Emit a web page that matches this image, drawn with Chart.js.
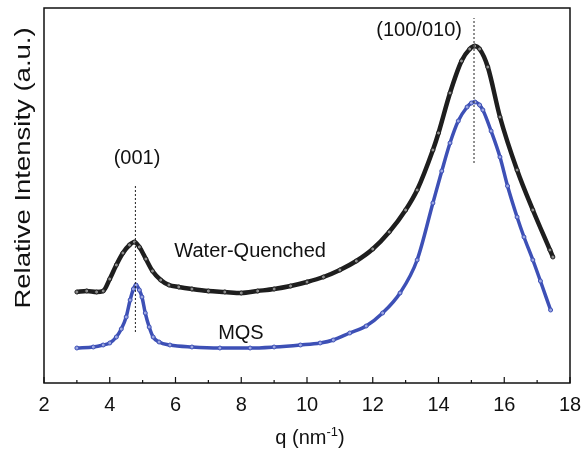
<!DOCTYPE html>
<html>
<head>
<meta charset="utf-8">
<script src="https://cdn.jsdelivr.net/npm/chart.js@4.4.0/dist/chart.umd.min.js"></script>
<style>
  html, body { margin: 0; padding: 0; background: #fff; }
  #wrap { width: 582px; height: 449px; }
</style>
</head>
<body>
<div id="wrap"><canvas id="saxs"></canvas></div>
<script>
// scattering vector q (nm^-1) and intensity (a.u.) read along each profile
const qWater = [3.0, 3.3, 3.6, 3.8, 4.0, 4.2, 4.4, 4.6, 4.75, 4.9, 5.1, 5.3, 5.55, 5.8, 6.1, 6.5, 7.0, 7.5, 8.0, 8.5, 9.0, 9.5, 10.0, 10.5, 11.0, 11.5, 12.0, 12.5, 13.0, 13.35, 13.83, 14.0, 14.35, 14.7, 14.95, 15.1, 15.25, 15.5, 15.87, 16.39, 16.87, 17.39, 17.48];
const iWater = [91, 92, 91, 92, 104, 118, 130, 138, 141, 136, 124, 112, 103, 98, 96, 94, 92, 91, 90, 92, 94, 97, 101, 106, 113, 122, 134, 151, 173, 193, 233, 250, 290, 322, 334, 337, 334, 316, 266, 213, 173, 133, 126];

const qMqs = [3.0, 3.5, 3.8, 4.0, 4.2, 4.35, 4.5, 4.62, 4.72, 4.8, 4.9, 4.98, 5.08, 5.2, 5.32, 5.5, 5.83, 6.5, 7.35, 8.27, 9.0, 9.8, 10.4, 10.8, 11.3, 11.8, 12.3, 12.83, 13.35, 13.83, 14.1, 14.35, 14.6, 14.87, 15.0, 15.11, 15.25, 15.35, 15.6, 15.87, 16.1, 16.39, 16.6, 16.87, 17.1, 17.41];
const iMqs = [35, 36, 38, 40, 46, 54, 66, 83, 94, 98, 93, 86, 70, 56, 46, 41, 38, 36, 35, 35, 36, 38, 40, 43, 50, 57, 70, 90, 123, 180, 212, 240, 262, 276, 280, 281, 278, 273, 252, 226, 197, 166, 146, 123, 102, 73];

// reflection markers: position and vertical extent of the dotted guides
const peakQ = [4.78, 15.08];
const guideFrom = [51, 220];
const guideTo = [198, 365];

const xTicks = [2, 4, 6, 8, 10, 12, 14, 16, 18];
const xMinorTicks = [3, 5, 7, 9, 11, 13, 15, 17];

// text labels placed in data coordinates
const notes = [
  { text: "(001)", q: 4.83, y: 225 },
  { text: "(100/010)", q: 13.41, y: 353 },
  { text: "Water-Quenched", q: 8.27, y: 132 },
  { text: "MQS", q: 7.99, y: 50 }
];

const FONT = "'Liberation Sans', Arial, sans-serif";
const black = "#1e1e1e";
const blue = "#3d50b6";

function pairs(xs, ys) {
  return xs.map((x, i) => ({ x: x, y: ys[i] }));
}

const guideSets = peakQ.map((q, i) => ({
  data: [{ x: q, y: guideFrom[i] }, { x: q, y: guideTo[i] }],
  borderColor: "#222",
  borderWidth: 1,
  borderDash: [2, 2],
  pointRadius: 0,
  order: 0
}));

// frame, minor ticks, titles and annotations
const decor = {
  id: "decor",
  afterDraw(chart) {
    const ctx = chart.ctx;
    const a = chart.chartArea;
    const xs = chart.scales.x;
    const ys = chart.scales.y;
    ctx.save();
    ctx.strokeStyle = "#111";
    ctx.lineWidth = 1.5;
    ctx.strokeRect(a.left, a.top, a.right - a.left, a.bottom - a.top);

    ctx.lineWidth = 1.2;
    ctx.beginPath();
    xTicks.forEach(v => {
      const px = xs.getPixelForValue(v);
      ctx.moveTo(px, a.bottom);
      ctx.lineTo(px, a.bottom - 6);
    });
    xMinorTicks.forEach(v => {
      const px = xs.getPixelForValue(v);
      ctx.moveTo(px, a.bottom);
      ctx.lineTo(px, a.bottom - 3);
    });
    ctx.stroke();

    ctx.fillStyle = "#111";
    ctx.textAlign = "center";
    ctx.textBaseline = "middle";
    ctx.font = "20px " + FONT;
    notes.forEach(n => {
      ctx.fillText(n.text, xs.getPixelForValue(n.q), ys.getPixelForValue(n.y));
    });

    // x title with superscript
    const cx = (a.left + a.right) / 2 + 3;
    const base = 444;
    ctx.textBaseline = "alphabetic";
    ctx.textAlign = "left";
    const t1 = "q (nm";
    const t2 = "-1";
    const t3 = ")";
    ctx.font = "20px " + FONT;
    const w1 = ctx.measureText(t1).width;
    const w3 = ctx.measureText(t3).width;
    ctx.font = "13px " + FONT;
    const w2 = ctx.measureText(t2).width;
    let x0 = cx - (w1 + w2 + w3) / 2;
    ctx.font = "20px " + FONT;
    ctx.fillText(t1, x0, base);
    ctx.font = "13px " + FONT;
    ctx.fillText(t2, x0 + w1, base - 8);
    ctx.font = "20px " + FONT;
    ctx.fillText(t3, x0 + w1 + w2, base);

    // y title, drawn a little elongated along its length
    ctx.translate(24, 168);
    ctx.rotate(-Math.PI / 2);
    ctx.scale(1.25, 1);
    ctx.textAlign = "center";
    ctx.textBaseline = "middle";
    ctx.font = "22px " + FONT;
    ctx.fillText("Relative Intensity (a.u.)", 0, 0);
    ctx.restore();
  }
};

new Chart(document.getElementById("saxs"), {
  type: "line",
  data: {
    datasets: [
      {
        label: "Water-Quenched",
        data: pairs(qWater, iWater),
        borderColor: black,
        borderWidth: 4.5,
        pointRadius: 2,
        pointBorderWidth: 1,
        pointBorderColor: black,
        pointBackgroundColor: "#8c8c8c",
        cubicInterpolationMode: "monotone",
        order: 2
      },
      {
        label: "MQS",
        data: pairs(qMqs, iMqs),
        borderColor: blue,
        borderWidth: 3.5,
        pointRadius: 2,
        pointBorderWidth: 1,
        pointBorderColor: blue,
        pointBackgroundColor: "#9aa5e0",
        cubicInterpolationMode: "monotone",
        order: 1
      },
      ...guideSets
    ]
  },
  options: {
    responsive: true,
    maintainAspectRatio: false,
    animation: false,
    layout: { padding: { top: 8, right: 12, left: 0, bottom: 0 } },
    plugins: {
      legend: { display: false },
      tooltip: { enabled: false }
    },
    scales: {
      x: {
        type: "linear",
        min: 2,
        max: 18,
        grid: { display: false, drawTicks: false },
        border: { display: false },
        afterBuildTicks(scale) {
          scale.ticks = xTicks.map(v => ({ value: v }));
        },
        afterFit(scale) {
          scale.height = 66;
          scale.paddingLeft = 0;
          scale.paddingRight = 0;
        },
        ticks: {
          padding: 10,
          maxRotation: 0,
          color: "#111",
          font: { family: FONT, size: 20 }
        }
      },
      y: {
        min: 0,
        max: 375,
        grid: { display: false, drawTicks: false },
        border: { display: false },
        ticks: { display: false },
        afterFit(scale) { scale.width = 44; }
      }
    }
  },
  plugins: [decor]
});
</script>
</body>
</html>
